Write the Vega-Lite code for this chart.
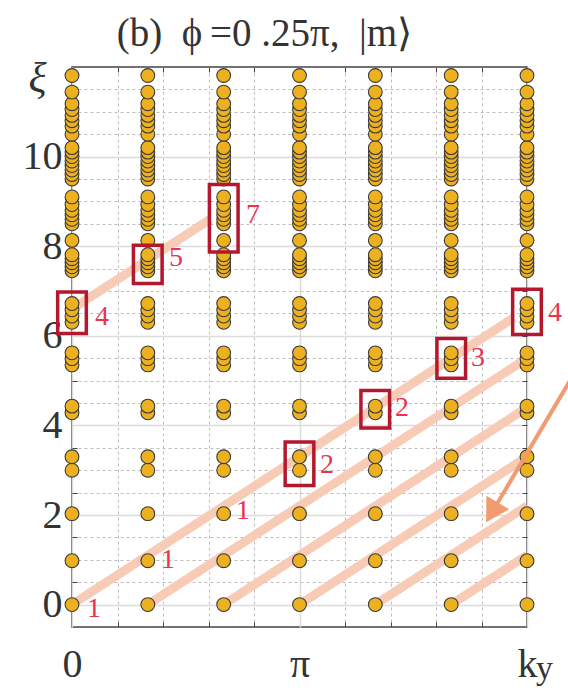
{
  "$schema": "https://vega.github.io/schema/vega-lite/v6.json",
  "width": 455,
  "height": 560,
  "autosize": {"type": "none"},
  "padding": {"left": 72, "top": 67, "right": 41, "bottom": 64},
  "background": "white",
  "config": {
    "view": {"stroke": "#444444", "strokeWidth": 1.5},
    "font": "Liberation Serif"
  },
  "title": {
    "text": "(b)\u2002ϕ\u2009=0 .25π,\u2002|m⟩",
    "font": "Liberation Serif",
    "fontSize": 39,
    "fontWeight": "normal",
    "color": "#333333",
    "anchor": "middle",
    "frame": "group",
    "dx": -35,
    "dy": 45,
    "baseline": "alphabetic",
    "offset": 17
  },
  "datasets": {
    "levels": [
      {"k":0,"xi":0},{"k":0,"xi":0.98},{"k":0,"xi":2.03},{"k":0,"xi":3.0},{"k":0,"xi":3.3},{"k":0,"xi":4.28},{"k":0,"xi":4.43},{"k":0,"xi":5.35},{"k":0,"xi":5.49},{"k":0,"xi":5.62},{"k":0,"xi":6.3},{"k":0,"xi":6.44},{"k":0,"xi":6.58},{"k":0,"xi":6.72},{"k":0,"xi":7.45},{"k":0,"xi":7.54},{"k":0,"xi":7.63},{"k":0,"xi":7.72},{"k":0,"xi":7.81},{"k":0,"xi":8.13},{"k":0,"xi":8.5},{"k":0,"xi":8.6},{"k":0,"xi":8.7},{"k":0,"xi":8.8},{"k":0,"xi":8.93},{"k":0,"xi":9.1},{"k":0,"xi":9.5},{"k":0,"xi":9.6},{"k":0,"xi":9.7},{"k":0,"xi":9.8},{"k":0,"xi":9.9},{"k":0,"xi":10.0},{"k":0,"xi":10.1},{"k":0,"xi":10.2},{"k":0,"xi":10.5},{"k":0,"xi":10.68},{"k":0,"xi":10.8},{"k":0,"xi":10.92},{"k":0,"xi":11.05},{"k":0,"xi":11.18},{"k":0,"xi":11.44},{"k":0,"xi":11.81},
      {"k":0.3333,"xi":0},{"k":0.3333,"xi":0.98},{"k":0.3333,"xi":2.03},{"k":0.3333,"xi":3.0},{"k":0.3333,"xi":3.3},{"k":0.3333,"xi":4.28},{"k":0.3333,"xi":4.43},{"k":0.3333,"xi":5.35},{"k":0.3333,"xi":5.49},{"k":0.3333,"xi":5.62},{"k":0.3333,"xi":6.3},{"k":0.3333,"xi":6.44},{"k":0.3333,"xi":6.58},{"k":0.3333,"xi":6.72},{"k":0.3333,"xi":7.45},{"k":0.3333,"xi":7.54},{"k":0.3333,"xi":7.63},{"k":0.3333,"xi":7.72},{"k":0.3333,"xi":7.81},{"k":0.3333,"xi":8.13},{"k":0.3333,"xi":8.5},{"k":0.3333,"xi":8.6},{"k":0.3333,"xi":8.7},{"k":0.3333,"xi":8.8},{"k":0.3333,"xi":8.93},{"k":0.3333,"xi":9.1},{"k":0.3333,"xi":9.5},{"k":0.3333,"xi":9.6},{"k":0.3333,"xi":9.7},{"k":0.3333,"xi":9.8},{"k":0.3333,"xi":9.9},{"k":0.3333,"xi":10.0},{"k":0.3333,"xi":10.1},{"k":0.3333,"xi":10.2},{"k":0.3333,"xi":10.5},{"k":0.3333,"xi":10.68},{"k":0.3333,"xi":10.8},{"k":0.3333,"xi":10.92},{"k":0.3333,"xi":11.05},{"k":0.3333,"xi":11.18},{"k":0.3333,"xi":11.44},{"k":0.3333,"xi":11.81},
      {"k":0.6667,"xi":0},{"k":0.6667,"xi":0.98},{"k":0.6667,"xi":2.03},{"k":0.6667,"xi":3.0},{"k":0.6667,"xi":3.3},{"k":0.6667,"xi":4.28},{"k":0.6667,"xi":4.43},{"k":0.6667,"xi":5.35},{"k":0.6667,"xi":5.49},{"k":0.6667,"xi":5.62},{"k":0.6667,"xi":6.3},{"k":0.6667,"xi":6.44},{"k":0.6667,"xi":6.58},{"k":0.6667,"xi":6.72},{"k":0.6667,"xi":7.45},{"k":0.6667,"xi":7.54},{"k":0.6667,"xi":7.63},{"k":0.6667,"xi":7.72},{"k":0.6667,"xi":7.81},{"k":0.6667,"xi":8.13},{"k":0.6667,"xi":8.5},{"k":0.6667,"xi":8.6},{"k":0.6667,"xi":8.7},{"k":0.6667,"xi":8.8},{"k":0.6667,"xi":8.93},{"k":0.6667,"xi":9.1},{"k":0.6667,"xi":9.5},{"k":0.6667,"xi":9.6},{"k":0.6667,"xi":9.7},{"k":0.6667,"xi":9.8},{"k":0.6667,"xi":9.9},{"k":0.6667,"xi":10.0},{"k":0.6667,"xi":10.1},{"k":0.6667,"xi":10.2},{"k":0.6667,"xi":10.5},{"k":0.6667,"xi":10.68},{"k":0.6667,"xi":10.8},{"k":0.6667,"xi":10.92},{"k":0.6667,"xi":11.05},{"k":0.6667,"xi":11.18},{"k":0.6667,"xi":11.44},{"k":0.6667,"xi":11.81},
      {"k":1,"xi":0},{"k":1,"xi":0.98},{"k":1,"xi":2.03},{"k":1,"xi":3.0},{"k":1,"xi":3.3},{"k":1,"xi":4.28},{"k":1,"xi":4.43},{"k":1,"xi":5.35},{"k":1,"xi":5.49},{"k":1,"xi":5.62},{"k":1,"xi":6.3},{"k":1,"xi":6.44},{"k":1,"xi":6.58},{"k":1,"xi":6.72},{"k":1,"xi":7.45},{"k":1,"xi":7.54},{"k":1,"xi":7.63},{"k":1,"xi":7.72},{"k":1,"xi":7.81},{"k":1,"xi":8.13},{"k":1,"xi":8.5},{"k":1,"xi":8.6},{"k":1,"xi":8.7},{"k":1,"xi":8.8},{"k":1,"xi":8.93},{"k":1,"xi":9.1},{"k":1,"xi":9.5},{"k":1,"xi":9.6},{"k":1,"xi":9.7},{"k":1,"xi":9.8},{"k":1,"xi":9.9},{"k":1,"xi":10.0},{"k":1,"xi":10.1},{"k":1,"xi":10.2},{"k":1,"xi":10.5},{"k":1,"xi":10.68},{"k":1,"xi":10.8},{"k":1,"xi":10.92},{"k":1,"xi":11.05},{"k":1,"xi":11.18},{"k":1,"xi":11.44},{"k":1,"xi":11.81},
      {"k":1.3333,"xi":0},{"k":1.3333,"xi":0.98},{"k":1.3333,"xi":2.03},{"k":1.3333,"xi":3.0},{"k":1.3333,"xi":3.3},{"k":1.3333,"xi":4.28},{"k":1.3333,"xi":4.43},{"k":1.3333,"xi":5.35},{"k":1.3333,"xi":5.49},{"k":1.3333,"xi":5.62},{"k":1.3333,"xi":6.3},{"k":1.3333,"xi":6.44},{"k":1.3333,"xi":6.58},{"k":1.3333,"xi":6.72},{"k":1.3333,"xi":7.45},{"k":1.3333,"xi":7.54},{"k":1.3333,"xi":7.63},{"k":1.3333,"xi":7.72},{"k":1.3333,"xi":7.81},{"k":1.3333,"xi":8.13},{"k":1.3333,"xi":8.5},{"k":1.3333,"xi":8.6},{"k":1.3333,"xi":8.7},{"k":1.3333,"xi":8.8},{"k":1.3333,"xi":8.93},{"k":1.3333,"xi":9.1},{"k":1.3333,"xi":9.5},{"k":1.3333,"xi":9.6},{"k":1.3333,"xi":9.7},{"k":1.3333,"xi":9.8},{"k":1.3333,"xi":9.9},{"k":1.3333,"xi":10.0},{"k":1.3333,"xi":10.1},{"k":1.3333,"xi":10.2},{"k":1.3333,"xi":10.5},{"k":1.3333,"xi":10.68},{"k":1.3333,"xi":10.8},{"k":1.3333,"xi":10.92},{"k":1.3333,"xi":11.05},{"k":1.3333,"xi":11.18},{"k":1.3333,"xi":11.44},{"k":1.3333,"xi":11.81},
      {"k":1.6667,"xi":0},{"k":1.6667,"xi":0.98},{"k":1.6667,"xi":2.03},{"k":1.6667,"xi":3.0},{"k":1.6667,"xi":3.3},{"k":1.6667,"xi":4.28},{"k":1.6667,"xi":4.43},{"k":1.6667,"xi":5.35},{"k":1.6667,"xi":5.49},{"k":1.6667,"xi":5.62},{"k":1.6667,"xi":6.3},{"k":1.6667,"xi":6.44},{"k":1.6667,"xi":6.58},{"k":1.6667,"xi":6.72},{"k":1.6667,"xi":7.45},{"k":1.6667,"xi":7.54},{"k":1.6667,"xi":7.63},{"k":1.6667,"xi":7.72},{"k":1.6667,"xi":7.81},{"k":1.6667,"xi":8.13},{"k":1.6667,"xi":8.5},{"k":1.6667,"xi":8.6},{"k":1.6667,"xi":8.7},{"k":1.6667,"xi":8.8},{"k":1.6667,"xi":8.93},{"k":1.6667,"xi":9.1},{"k":1.6667,"xi":9.5},{"k":1.6667,"xi":9.6},{"k":1.6667,"xi":9.7},{"k":1.6667,"xi":9.8},{"k":1.6667,"xi":9.9},{"k":1.6667,"xi":10.0},{"k":1.6667,"xi":10.1},{"k":1.6667,"xi":10.2},{"k":1.6667,"xi":10.5},{"k":1.6667,"xi":10.68},{"k":1.6667,"xi":10.8},{"k":1.6667,"xi":10.92},{"k":1.6667,"xi":11.05},{"k":1.6667,"xi":11.18},{"k":1.6667,"xi":11.44},{"k":1.6667,"xi":11.81},
      {"k":2,"xi":0},{"k":2,"xi":0.98},{"k":2,"xi":2.03},{"k":2,"xi":3.0},{"k":2,"xi":3.3},{"k":2,"xi":4.28},{"k":2,"xi":4.43},{"k":2,"xi":5.35},{"k":2,"xi":5.49},{"k":2,"xi":5.62},{"k":2,"xi":6.3},{"k":2,"xi":6.44},{"k":2,"xi":6.58},{"k":2,"xi":6.72},{"k":2,"xi":7.45},{"k":2,"xi":7.54},{"k":2,"xi":7.63},{"k":2,"xi":7.72},{"k":2,"xi":7.81},{"k":2,"xi":8.13},{"k":2,"xi":8.5},{"k":2,"xi":8.6},{"k":2,"xi":8.7},{"k":2,"xi":8.8},{"k":2,"xi":8.93},{"k":2,"xi":9.1},{"k":2,"xi":9.5},{"k":2,"xi":9.6},{"k":2,"xi":9.7},{"k":2,"xi":9.8},{"k":2,"xi":9.9},{"k":2,"xi":10.0},{"k":2,"xi":10.1},{"k":2,"xi":10.2},{"k":2,"xi":10.5},{"k":2,"xi":10.68},{"k":2,"xi":10.8},{"k":2,"xi":10.92},{"k":2,"xi":11.05},{"k":2,"xi":11.18},{"k":2,"xi":11.44},{"k":2,"xi":11.81}
    ],
    "guides": [
      {"k":0,"xi":0,"k2":1.94,"xi2":6.4},
      {"k":0,"xi":6.6,"k2":0.607,"xi2":8.6},
      {"k":0.3333,"xi":0,"k2":2,"xi2":5.5},
      {"k":0.6667,"xi":0,"k2":2,"xi2":4.4},
      {"k":1,"xi":0,"k2":2,"xi2":3.3},
      {"k":1.3333,"xi":0,"k2":2,"xi2":2.2},
      {"k":1.6667,"xi":0,"k2":2,"xi2":1.1}
    ],
    "boxes": [
      {"k1":-0.063,"k2":0.063,"lo":6.05,"hi":6.98},
      {"k1":0.27,"k2":0.396,"lo":7.17,"hi":8.02},
      {"k1":0.604,"k2":0.73,"lo":7.87,"hi":9.38},
      {"k1":0.937,"k2":1.063,"lo":2.66,"hi":3.63},
      {"k1":1.27,"k2":1.396,"lo":3.94,"hi":4.78},
      {"k1":1.604,"k2":1.73,"lo":5.05,"hi":5.94},
      {"k1":1.937,"k2":2.063,"lo":6.03,"hi":7.04}
    ],
    "tags": [
      {"k":0.097,"xi":-0.1,"t":"1"},
      {"k":0.422,"xi":0.99,"t":"1"},
      {"k":0.752,"xi":2.1,"t":"1"},
      {"k":1.121,"xi":3.11,"t":"2"},
      {"k":1.451,"xi":4.38,"t":"2"},
      {"k":1.785,"xi":5.5,"t":"3"},
      {"k":2.123,"xi":6.5,"t":"4"},
      {"k":0.132,"xi":6.41,"t":"4"},
      {"k":0.457,"xi":7.73,"t":"5"},
      {"k":0.796,"xi":8.69,"t":"7"}
    ],
    "arrow": [
      {"k":2.189,"xi":5.0,"kt":1.846,"xit":2.06}
    ],
    "subscript": [
      {"k":2,"xi":-1.65,"t":"y"}
    ]
  },
  "layer": [
    {
      "data": {"name": "guides"},
      "mark": {"type": "rule", "color": "#f8cbb6", "strokeWidth": 9, "strokeCap": "butt"},
      "encoding": {
        "x": {"field": "k", "type": "quantitative",
              "scale": {"domain": [0, 2], "nice": false, "zero": false},
              "axis": {"orient": "bottom", "values": [0.2, 0.4, 0.6, 0.8, 1.2, 1.4, 1.6, 1.8],
                       "grid": true, "gridDash": [3, 3], "gridColor": "#bdbdbd", "gridWidth": 1,
                       "labels": false, "domain": false, "ticks": true, "tickSize": -5,
                       "tickColor": "#444444", "tickWidth": 1, "title": null}},
        "x2": {"field": "k2"},
        "y": {"field": "xi", "type": "quantitative",
              "scale": {"domain": [-0.5, 12], "nice": false, "zero": false},
              "axis": {"orient": "left", "values": [0.5, 1, 1.5, 2.5, 3, 3.5, 4.5, 5, 5.5, 6.5, 7, 7.5, 8.5, 9, 9.5, 10.5, 11, 11.5],
                       "grid": true, "gridDash": [3, 3], "gridColor": "#bdbdbd", "gridWidth": 1,
                       "labels": false, "domain": false, "ticks": true, "tickSize": -5,
                       "tickColor": "#444444", "tickWidth": 1, "title": null}},
        "y2": {"field": "xi2"}
      }
    },
    {
      "data": {"name": "levels"},
      "mark": {"type": "point", "shape": "circle", "filled": true, "size": 190,
               "fill": "#EDB120", "stroke": "#3a3a3a", "strokeWidth": 1.1, "opacity": 1},
      "encoding": {
        "x": {"field": "k", "type": "quantitative",
              "axis": {"orient": "top", "values": [0.2, 0.4, 0.6, 0.8, 1, 1.2, 1.4, 1.6, 1.8],
                       "grid": false, "labels": false, "domain": false, "ticks": true,
                       "tickSize": -5, "tickColor": "#444444", "title": null}},
        "y": {"field": "xi", "type": "quantitative",
              "axis": {"orient": "right", "values": [0.5, 1, 1.5, 2, 2.5, 3, 3.5, 4, 4.5, 5, 5.5, 6, 6.5, 7, 7.5, 8, 8.5, 9, 9.5, 10, 10.5, 11, 11.5],
                       "grid": false, "labels": false, "domain": false, "ticks": true,
                       "tickSize": -5, "tickColor": "#444444", "title": null}}
      }
    },
    {
      "data": {"name": "boxes"},
      "mark": {"type": "rect", "fill": null, "fillOpacity": 0, "stroke": "#b3182f", "strokeWidth": 3.5},
      "encoding": {
        "x": {"field": "k1", "type": "quantitative",
              "axis": {"orient": "bottom", "values": [0, 1, 2],
                       "grid": true, "gridColor": "#dcdcdc", "gridWidth": 1.5,
                       "domain": false, "ticks": false, "tickSize": 0,
                       "labelExpr": "datum.value == 0 ? '0' : datum.value == 1 ? 'π' : 'k'",
                       "labelFont": "Liberation Serif", "labelFontSize": 40, "labelColor": "#333333",
                       "labelBaseline": "alphabetic", "labelPadding": 49, "labelFlush": false,
                       "title": null}},
        "x2": {"field": "k2"},
        "y": {"field": "lo", "type": "quantitative",
              "axis": {"orient": "left", "values": [0, 2, 4, 6, 8, 10],
                       "grid": true, "gridColor": "#dcdcdc", "gridWidth": 1.5,
                       "domain": false, "ticks": false, "tickSize": 0,
                       "labelFont": "Liberation Serif", "labelFontSize": 40, "labelColor": "#333333",
                       "labelPadding": 10, "labelFlush": false,
                       "title": "ξ", "titleAngle": 0, "titleX": -35, "titleY": 11,
                       "titleAlign": "center", "titleBaseline": "middle",
                       "titleFont": "Liberation Serif", "titleFontSize": 42,
                       "titleFontStyle": "italic", "titleFontWeight": "normal", "titleColor": "#333333"}},
        "y2": {"field": "hi"}
      }
    },
    {
      "data": {"name": "tags"},
      "mark": {"type": "text", "font": "Liberation Serif", "fontSize": 28, "color": "#e8344e",
               "align": "center", "baseline": "middle"},
      "encoding": {
        "x": {"field": "k", "type": "quantitative", "axis": null},
        "y": {"field": "xi", "type": "quantitative", "axis": null},
        "text": {"field": "t"}
      }
    },
    {
      "data": {"name": "arrow"},
      "mark": {"type": "rule", "color": "#f29a70", "strokeWidth": 4, "strokeCap": "butt"},
      "encoding": {
        "x": {"field": "k", "type": "quantitative", "axis": null},
        "x2": {"field": "kt"},
        "y": {"field": "xi", "type": "quantitative", "axis": null},
        "y2": {"field": "xit"}
      }
    },
    {
      "data": {"name": "arrow"},
      "mark": {"type": "point", "shape": "triangle-up", "filled": true, "size": 700,
               "fill": "#f29a70", "stroke": null, "opacity": 1, "angle": 210.6},
      "encoding": {
        "x": {"field": "kt", "type": "quantitative", "axis": null},
        "y": {"field": "xit", "type": "quantitative", "axis": null}
      }
    },
    {
      "data": {"name": "subscript"},
      "mark": {"type": "text", "font": "Liberation Serif", "fontSize": 34, "color": "#333333",
               "align": "left", "baseline": "alphabetic", "dx": 9},
      "encoding": {
        "x": {"field": "k", "type": "quantitative", "axis": null},
        "y": {"field": "xi", "type": "quantitative", "axis": null},
        "text": {"field": "t"}
      }
    }
  ],
  "resolve": {"axis": {"x": "independent", "y": "independent"}}
}
